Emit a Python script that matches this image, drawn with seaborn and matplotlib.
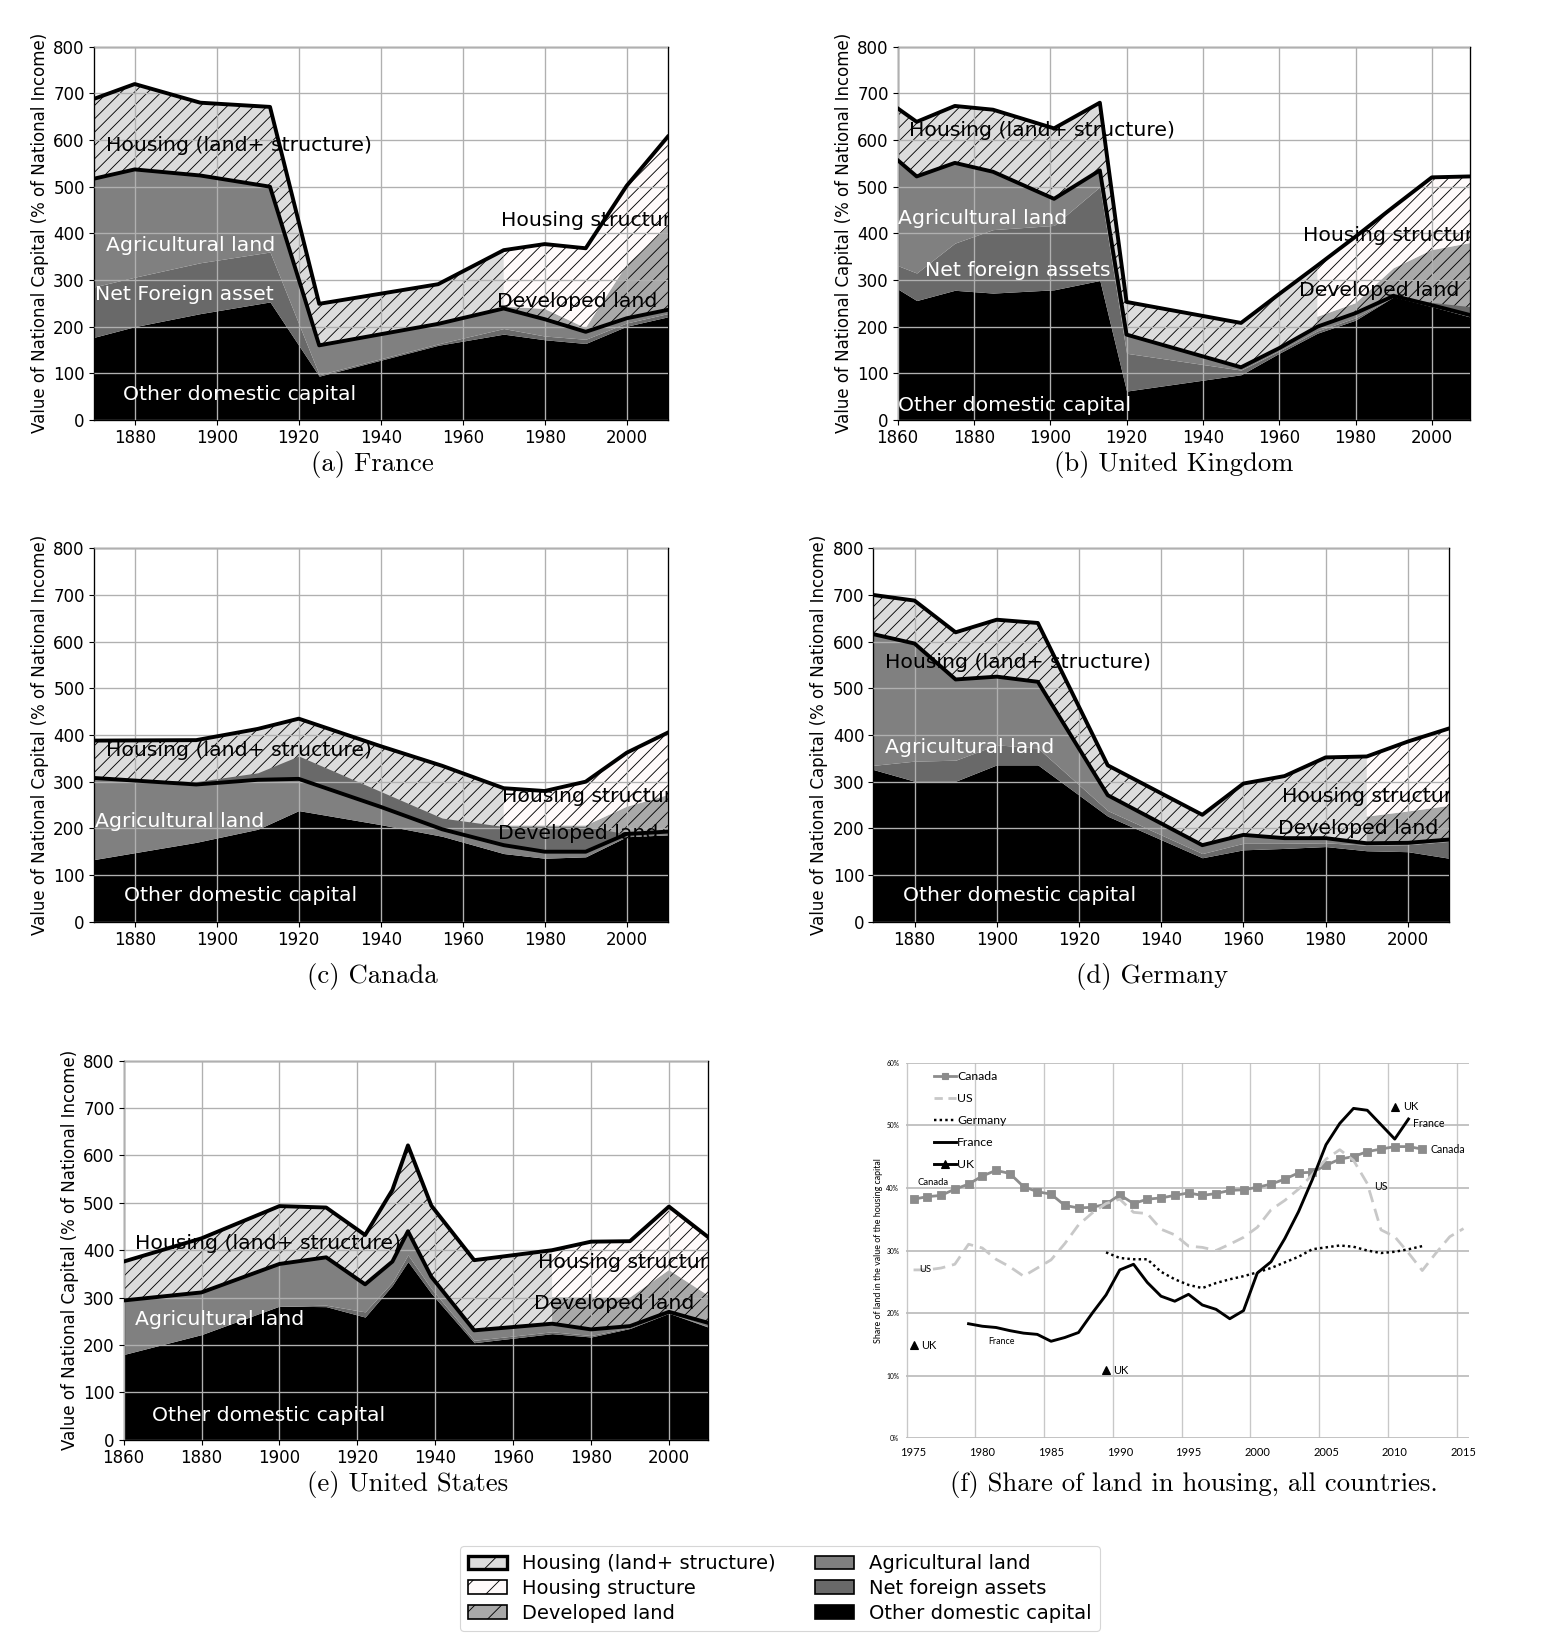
import numpy as np
import matplotlib.pyplot as plt
import seaborn as sns
from matplotlib.patches import Patch
from matplotlib.lines import Line2D

# ------------------------------------------------------------------
# data (% of national income)
# ------------------------------------------------------------------
fr_years = [1870, 1880, 1896, 1913, 1925, 1954, 1970, 1980, 1990, 2000, 2010]
fr_other = [177, 200, 228, 253, 94, 160, 184, 172, 164, 201, 221]
fr_nfa = [108, 106, 109, 107, 3, 3, 12, 8, 9, 7, 7]
fr_agri = [232, 231, 187, 140, 63, 43, 43, 36, 16, 10, 8]
fr_housing = [171, 183, 156, 171, 89, 85, 125, 161, 179, 284, 371]
fr_developed = [4, 22, 8, 114, 178]          # from 1970 on

uk_years = [1860, 1865, 1875, 1885, 1901, 1913, 1920, 1950, 1960, 1970, 1980, 1990, 2000, 2010]
uk_other = [281, 256, 278, 272, 279, 299, 62, 97, 143, 186, 214, 264, 243, 221]
uk_nfa = [50, 59, 101, 136, 138, 201, 81, 10, 5, 5, 5, 0, -6, -18]
uk_agri = [226, 207, 172, 124, 57, 35, 40, 6, 6, 9, 10, 2, 9, 22]
uk_housing = [111, 117, 122, 133, 151, 145, 70, 95, 116, 131, 164, 191, 274, 297]
uk_developed = [21, 21, 59, 118, 154]        # from 1970 on

ca_years = [1870, 1895, 1910, 1920, 1940, 1955, 1970, 1980, 1990, 2000, 2010]
ca_other = [133, 170, 198, 238, 208, 183, 146, 136, 139, 182, 186]
ca_nfa = [0, -6, -15, -49, -33, -24, -40, -54, -54, 0, 0]
ca_agri = [175, 130, 121, 117, 71, 39, 58, 68, 65, 6, 7]
ca_housing = [80, 95, 109, 129, 130, 136, 122, 130, 150, 174, 212]
ca_developed = [42, 56, 56, 58, 78]          # from 1970 on

de_years = [1870, 1880, 1890, 1900, 1910, 1927, 1950, 1960, 1970, 1980, 1990, 2000, 2010]
de_other = [326, 301, 301, 336, 336, 226, 137, 154, 157, 161, 152, 150, 136]
de_nfa = [9, 43, 45, 43, 36, 12, 9, 14, 11, 8, 12, 15, 36]
de_agri = [281, 252, 173, 146, 142, 33, 18, 18, 11, 10, 4, 4, 4]
de_housing = [84, 92, 101, 122, 126, 64, 65, 110, 133, 173, 186, 217, 238]
de_developed = [57, 67, 72]                  # from 1990 on

us_years = [1860, 1880, 1900, 1912, 1922, 1929, 1933, 1939, 1950, 1970, 1980, 1990, 2000, 2010]
us_other = [180, 222, 282, 281, 259, 326, 376, 309, 205, 224, 217, 235, 267, 238]
us_nfa = [0, 0, 0, 3, 11, 7, 14, 10, 5, 4, 3, 2, 1, 1]
us_agri = [114, 89, 89, 101, 58, 43, 50, 25, 21, 17, 13, 3, 2, 8]
us_housing = [82, 114, 122, 105, 104, 151, 181, 150, 148, 155, 185, 179, 222, 181]
us_developed = [56, 67, 60, 88, 58]          # from 1970 on

# share of land in housing (%)
sh_canada_years = list(range(1975, 2013))
sh_canada = [38.2, 38.6, 38.8, 39.8, 40.6, 41.9, 42.8, 42.3, 40.2, 39.4, 39.0, 37.2, 36.8,
             36.9, 37.4, 38.9, 37.5, 38.2, 38.4, 38.8, 39.2, 38.8, 39.1, 39.6, 39.7, 40.1,
             40.6, 41.4, 42.4, 42.5, 43.6, 44.6, 45.0, 45.8, 46.2, 46.6, 46.6, 46.2]
sh_us_years = list(range(1975, 2016))
sh_us = [26.9, 26.9, 27.2, 27.8, 31.0, 30.4, 28.6, 27.4, 25.9, 27.2, 28.5, 31.1, 34.1, 36.0,
         37.5, 38.2, 36.1, 35.9, 33.4, 32.5, 30.7, 30.5, 30.0, 31.0, 32.1, 33.7, 36.5, 38.0,
         39.8, 42.1, 44.6, 46.1, 44.4, 40.7, 33.3, 32.2, 29.6, 26.8, 29.6, 32.2, 33.5]
sh_germany_years = list(range(1989, 2013))
sh_germany = [29.7, 28.8, 28.6, 28.6, 26.6, 25.4, 24.5, 24.0, 24.8, 25.4, 25.9, 26.5, 27.2,
              28.1, 29.0, 30.2, 30.5, 30.8, 30.6, 30.0, 29.6, 29.8, 30.2, 30.7]
sh_france_years = list(range(1979, 2012))
sh_france = [18.3, 17.9, 17.7, 17.2, 16.8, 16.6, 15.5, 16.1, 16.9, 20.0, 22.9, 26.9, 27.8,
             24.9, 22.7, 21.9, 23.0, 21.3, 20.6, 19.1, 20.4, 26.4, 28.2, 31.9, 36.2, 41.3,
             46.9, 50.3, 52.7, 52.4, 50.1, 47.8, 51.0]
sh_uk_years = [1975, 1989, 2010]
sh_uk = [14.9, 10.9, 53.0]

# ------------------------------------------------------------------
W, H, DPI = 1568, 1651, 80
C_HOUSE, C_STRUCT, C_DEV = 'gainsboro', 'snow', 'darkgray'
C_AGRI, C_NFA, C_OTHER = 'gray', 'dimgray', 'black'
LBL = 18.4
HATCH = '//'

plt.rcParams['hatch.color'] = 'black'
plt.rcParams['hatch.linewidth'] = 0.8

fig = plt.figure(figsize=(W / DPI, H / DPI), dpi=DPI)


def box(left, top, right, bottom):
    return [left / W, 1 - bottom / H, (right - left) / W, (bottom - top) / H]


def capital_panel(rect, years, other, nfa, agri, housing, split, developed, x0, labels):
    ax = fig.add_axes(rect)
    yrs = np.array(years, float)
    other, nfa = np.array(other, float), np.array(nfa, float)
    agri, housing = np.array(agri, float), np.array(housing, float)
    pos, neg = np.clip(nfa, 0, None), np.clip(nfa, None, 0)
    line = other + nfa + agri
    total = line + housing

    ax.fill_between(yrs, 0, other, color=C_OTHER, lw=0)
    ax.fill_between(yrs, other, other + pos, color=C_NFA, lw=0)
    ax.fill_between(yrs, other + pos, other + pos + agri, color=C_AGRI, lw=0)
    ax.fill_between(yrs, line, total, facecolor=C_HOUSE, edgecolor='black', hatch=HATCH, lw=0)
    late = yrs >= split
    dev_top = line[late] + np.array(developed, float)
    ax.fill_between(yrs[late], line[late], dev_top, facecolor=C_DEV, edgecolor='black',
                    hatch=HATCH, lw=0)
    ax.fill_between(yrs[late], dev_top, total[late], facecolor=C_STRUCT, edgecolor='black',
                    hatch=HATCH, lw=0)
    ax.fill_between(yrs, line, line - neg, color=C_NFA, lw=0)

    sns.lineplot(x=yrs, y=total, color='black', lw=3.5, ax=ax, zorder=4)
    sns.lineplot(x=yrs, y=line, color='black', lw=3.5, ax=ax, zorder=4)

    ax.set_xlim(x0, 2010)
    ax.set_ylim(0, 800)
    ax.set_xticks(range(x0 if x0 % 20 == 0 else x0 + 10, 2001, 20))
    ax.set_yticks(range(0, 801, 100))
    ax.set_axisbelow(False)
    ax.grid(True, color='#b0b0b0', lw=1.2)
    ax.tick_params(labelsize=15, length=4.5, width=1)
    for s in ax.spines.values():
        s.set_linewidth(1.2)
    ax.set_xlabel('')
    ax.set_ylabel('Value of National Capital (% of National Income)', fontsize=15)
    for txt, x, y, col in labels:
        ax.text(x, y, txt, color=col, fontsize=LBL, ha='left', va='center', zorder=5,
                clip_on=True)
    return ax


capital_panel(box(93.7, 46.7, 667.7, 420), fr_years, fr_other, fr_nfa, fr_agri, fr_housing,
              1970, fr_developed, 1870,
              [('Housing (land+ structure)', 1873, 589, 'black'),
               ('Agricultural land', 1873, 373, 'white'),
               ('Net Foreign asset', 1870.3, 269, 'white'),
               ('Other domestic capital', 1877.2, 54, 'white'),
               ('Housing structure', 1969.3, 428, 'black'),
               ('Developed land', 1968.4, 254, 'black')])

capital_panel(box(897.6, 46.7, 1470, 420), uk_years, uk_other, uk_nfa, uk_agri, uk_housing,
              1970, uk_developed, 1860,
              [('Housing (land+ structure)', 1863, 621, 'black'),
               ('Agricultural land', 1860, 431, 'white'),
               ('Net foreign assets', 1867.3, 320, 'white'),
               ('Other domestic capital', 1860, 32, 'white'),
               ('Housing structure', 1966.3, 396, 'black'),
               ('Developed land', 1965.2, 278, 'black')])

capital_panel(box(93.7, 548.3, 667.7, 921.7), ca_years, ca_other, ca_nfa, ca_agri, ca_housing,
              1970, ca_developed, 1870,
              [('Housing (land+ structure)', 1873, 366, 'black'),
               ('Agricultural land', 1870.4, 214, 'white'),
               ('Other domestic capital', 1877.4, 56, 'white'),
               ('Housing structure', 1969.7, 268, 'black'),
               ('Developed land', 1968.7, 189, 'black')])

capital_panel(box(873.4, 548.3, 1449, 921.7), de_years, de_other, de_nfa, de_agri, de_housing,
              1990, de_developed, 1870,
              [('Housing (land+ structure)', 1872.9, 555, 'black'),
               ('Agricultural land', 1872.9, 374, 'white'),
               ('Other domestic capital', 1877.3, 56, 'white'),
               ('Housing structure', 1969.5, 268, 'black'),
               ('Developed land', 1968.5, 200, 'black')])

capital_panel(box(123.6, 1060.5, 707.9, 1439.9), us_years, us_other, us_nfa, us_agri, us_housing,
              1970, us_developed, 1860,
              [('Housing (land+ structure)', 1862.9, 414, 'black'),
               ('Agricultural land', 1862.9, 254, 'white'),
               ('Other domestic capital', 1867.3, 52, 'white'),
               ('Housing structure', 1966.5, 374, 'black'),
               ('Developed land', 1965.4, 288, 'black')])

# ------------------------------------------------------------------
# (f) share of land in housing
# ------------------------------------------------------------------
axf = fig.add_axes(box(906, 1062.7, 1469, 1438.3))
sns.lineplot(x=sh_canada_years, y=sh_canada, color='#8c8c8c', lw=2.5, marker='s',
             markersize=6.5, markeredgecolor='#8c8c8c', ax=axf, zorder=3)
sns.lineplot(x=sh_us_years, y=sh_us, color='#c8c8c8', lw=2.5, linestyle=(0, (4.5, 2.5)),
             ax=axf, zorder=3)
sns.lineplot(x=sh_germany_years, y=sh_germany, color='black', lw=2.2, linestyle=(0, (1, 1.3)),
             ax=axf, zorder=3)
sns.lineplot(x=sh_france_years, y=sh_france, color='black', lw=2.6, ax=axf, zorder=3)
axf.plot(sh_uk_years, sh_uk, linestyle='none', marker='^', color='black', markersize=8, zorder=3)

axf.set_xlim(1974.45, 2015.4)
axf.set_ylim(0, 60)
axf.set_xticks(range(1975, 2016, 5))
axf.set_xticks(np.arange(1974.5, 2015, 5), minor=True)
axf.set_yticks(range(0, 61, 10))
axf.set_yticklabels([f'{v}%' for v in range(0, 61, 10)])
axf.grid(True, which='major', axis='y', color='#bdbdbd', lw=1.6)
axf.grid(True, which='minor', axis='x', color='#c8c8c8', lw=1.2)
axf.set_axisbelow(True)
for s in axf.spines.values():
    s.set_visible(False)
axf.tick_params(axis='x', which='both', length=0, pad=8)
axf.tick_params(axis='y', length=0, pad=6)
for t in axf.get_xticklabels():
    t.set_fontfamily('Lato')
    t.set_fontsize(10)
for t in axf.get_yticklabels():
    t.set_fontfamily('Lato')
    t.set_fontsize(6)
axf.set_xlabel('')
axf.set_ylabel('Share of land in the value of the housing capital', fontsize=8,
               fontfamily='Lato', labelpad=3)

small = dict(fontfamily='Lato', ha='left', va='center', zorder=4)
axf.text(1975.3, 40.8, 'Canada', fontsize=8.5, **small)
axf.text(1975.4, 26.9, 'US', fontsize=8.5, **small)
axf.text(1980.45, 15.4, 'France', fontsize=8, **small)
axf.text(1975.55, 14.9, 'UK', fontsize=10, **small)
axf.text(1989.5, 10.9, 'UK', fontsize=10, **small)
axf.text(2010.6, 53.0, 'UK', fontsize=10, **small)
axf.text(2011.3, 50.3, 'France', fontsize=9.5, **small)
axf.text(2012.6, 46.1, 'Canada', fontsize=9.5, **small)
axf.text(2008.5, 40.2, 'US', fontsize=9.5, **small)

f_handles = [
    Line2D([], [], color='#8c8c8c', lw=2.5, marker='s', markersize=5),
    Line2D([], [], color='#c8c8c8', lw=2.5, linestyle=(0, (3, 2))),
    Line2D([], [], color='black', lw=2.2, linestyle=(0, (1, 1.3))),
    Line2D([], [], color='black', lw=2.6),
    Line2D([], [], color='black', lw=2.6, marker='^', markersize=7),
]
axf.legend(f_handles, ['Canada', 'US', 'Germany', 'France', 'UK'], loc='upper left',
           bbox_to_anchor=(0.05, 0.978), frameon=False, prop={'family': 'Lato', 'size': 11},
           labelspacing=0.9, handlelength=1.8, handletextpad=0.1, borderpad=0,
           borderaxespad=0)

# ------------------------------------------------------------------
# captions and shared legend
# ------------------------------------------------------------------
captions = [('(a) France', 372, 464), ('(b) United Kingdom', 1174, 464),
            ('(c) Canada', 372, 977), ('(d) Germany', 1152, 977),
            ('(e) United States', 408, 1485), ('(f) Share of land in housing, all countries.', 1194, 1485)]
for txt, x, y in captions:
    fig.text(x / W, 1 - y / H, txt, fontfamily='cmr10', fontsize=24, ha='center', va='center')

handles = [
    Patch(facecolor=C_HOUSE, edgecolor='black', hatch='/', lw=3),
    Patch(facecolor=C_STRUCT, edgecolor='black', hatch='/', lw=1.5),
    Patch(facecolor=C_DEV, edgecolor='black', hatch='/', lw=1.5),
    Patch(facecolor=C_AGRI, edgecolor='black', lw=1.5),
    Patch(facecolor=C_NFA, edgecolor='black', lw=1.5),
    Patch(facecolor=C_OTHER, edgecolor='black', lw=1.5),
]
names = ['Housing (land+ structure)', 'Housing structure', 'Developed land',
         'Agricultural land', 'Net foreign assets', 'Other domestic capital']
fig.legend(handles, names, ncol=2, loc='center', bbox_to_anchor=(780 / W, 1 - 1588.5 / H),
           fontsize=17.5, labelspacing=0.3)

fig.savefig('out.png', dpi=DPI)
